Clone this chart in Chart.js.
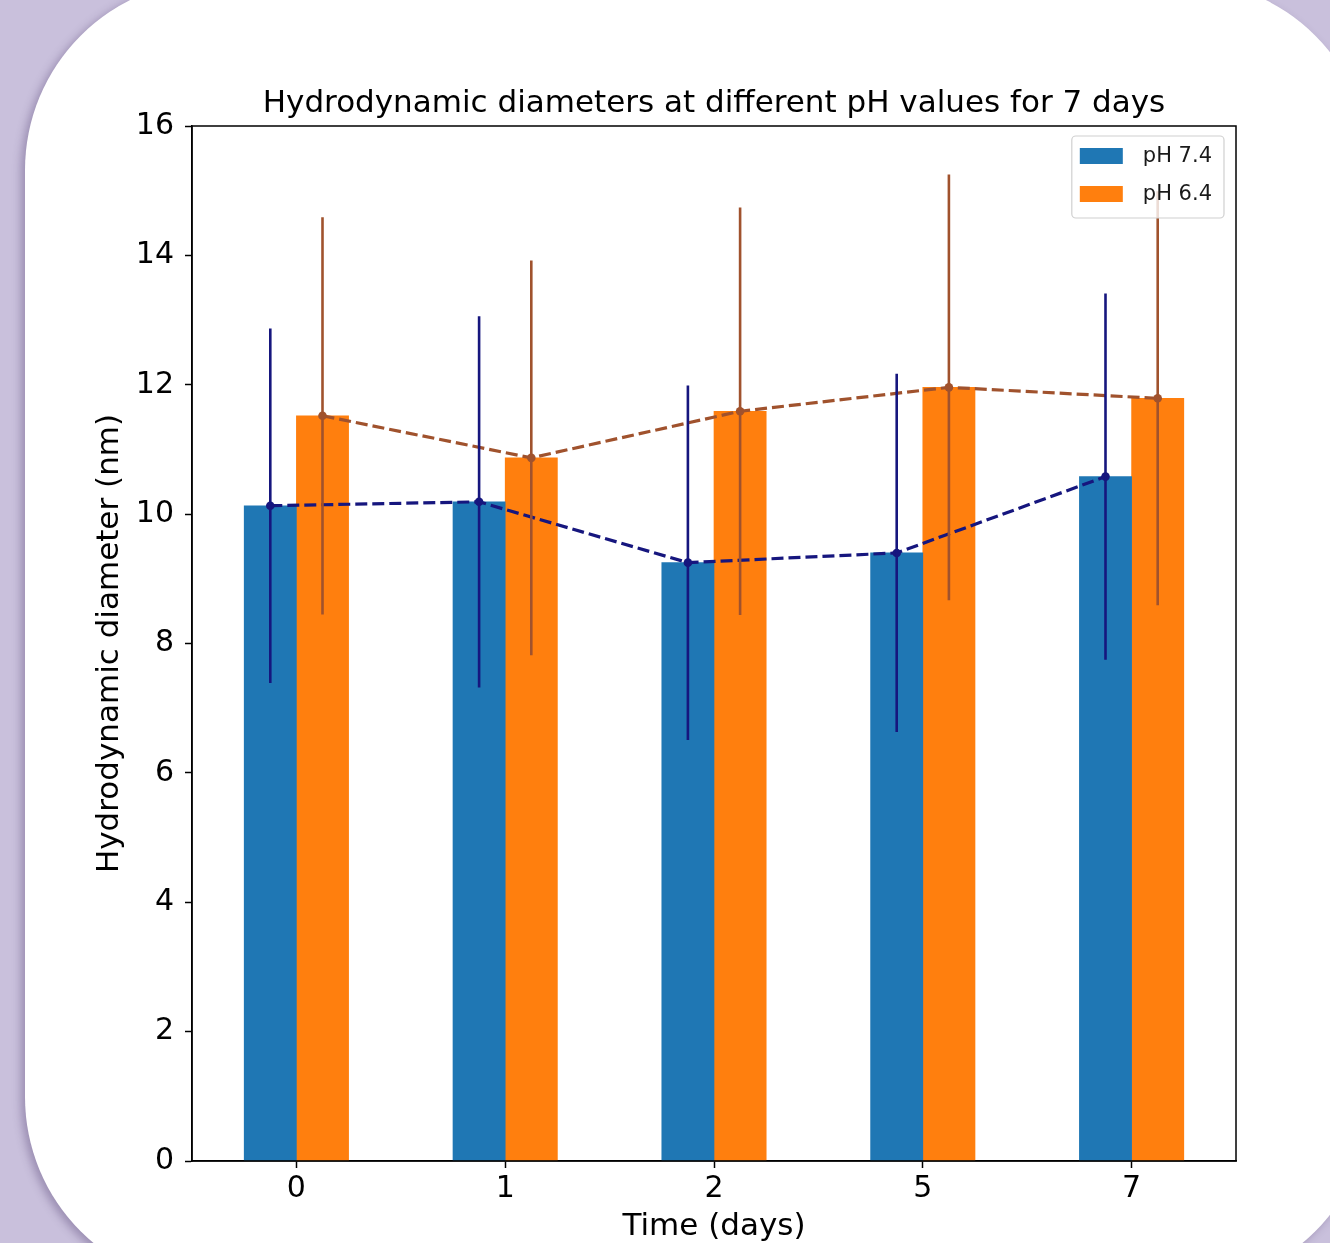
<!DOCTYPE html>
<html>
<head>
<meta charset="utf-8">
<script src="https://cdn.jsdelivr.net/npm/chart.js@4.4.1/dist/chart.umd.min.js"></script>
<style>
  html, body { margin: 0; padding: 0; width: 1330px; height: 1243px; overflow: hidden; background: #c9c0dc; }
  #card { position: absolute; left: 25px; top: -20px; width: 1346px; height: 1307px; border-radius: 190px; background: #ffffff; box-shadow: -4px 3px 8px rgba(70, 50, 100, 0.35); }
  #wrap { position: absolute; left: 0; top: 0; width: 1330px; height: 1243px; }
</style>
</head>
<body>
<div id="card"></div>
<div id="wrap"><canvas id="c"></canvas></div>
<script>
// ---- data ----
const categories = ['0', '1', '2', '5', '7'];
const ph74 = [10.13, 10.19, 9.25, 9.40, 10.58];
const ph64 = [11.52, 10.87, 11.59, 11.96, 11.79];
const err74 = [2.74, 2.87, 2.74, 2.77, 2.83];
const err64 = [3.07, 3.05, 3.15, 3.29, 3.20];
const yTicks = [0, 2, 4, 6, 8, 10, 12, 14, 16];
const seriesLabels = ['pH 7.4', 'pH 6.4'];

const FONT = "'DejaVu Sans', sans-serif";
const BLUE = '#1f77b4', ORANGE = '#ff7f0e', NAVY = '#16167e', SIENNA = '#a0522d';
const SHIFT = 0.125; // half a bar width, in category units

const errorPlugin = {
  id: 'extras',
  afterDatasetsDraw(chart) {
    const { ctx, chartArea: a, scales } = chart;
    const x = scales.x, y = scales.y;
    ctx.save();
    // error bars
    const groups = [[ph74, err74, NAVY, -SHIFT], [ph64, err64, SIENNA, SHIFT]];
    ctx.lineWidth = 2.6;
    groups.forEach(([vals, errs, col, sh]) => {
      ctx.strokeStyle = col;
      vals.forEach((v, i) => {
        const px = x.getPixelForValue(i + sh);
        ctx.beginPath();
        ctx.moveTo(px, y.getPixelForValue(v - errs[i]));
        ctx.lineTo(px, y.getPixelForValue(v + errs[i]));
        ctx.stroke();
      });
    });
    // frame
    ctx.strokeStyle = '#000';
    ctx.lineWidth = 1.5;
    ctx.strokeRect(a.left, a.top, a.right - a.left, a.bottom - a.top);
    // legend
    ctx.font = '21px ' + FONT;
    const tw = Math.max(...seriesLabels.map(t => ctx.measureText(t).width));
    const bw = 8 + 43 + 20 + tw + 12;
    const bh = 82;
    const bx = a.right - 12 - bw, by = a.top + 10;
    ctx.beginPath();
    ctx.roundRect(bx, by, bw, bh, 4);
    ctx.fillStyle = 'rgba(255,255,255,0.8)';
    ctx.fill();
    ctx.strokeStyle = '#d0d0d0';
    ctx.lineWidth = 1.2;
    ctx.stroke();
    const cols = [BLUE, ORANGE];
    seriesLabels.forEach((t, k) => {
      const cy = by + 20 + k * 38;
      ctx.fillStyle = cols[k];
      ctx.fillRect(bx + 8, cy - 8, 43, 16);
      ctx.fillStyle = '#1a1a1a';
      ctx.textAlign = 'left';
      ctx.textBaseline = 'middle';
      ctx.fillText(t, bx + 8 + 43 + 20, cy + 1);
    });
    ctx.restore();
  }
};

const barOpts = { grouped: false, categoryPercentage: 1.0, barPercentage: 1.0, order: 3, xAxisID: 'x', yAxisID: 'y' };
const lineOpts = { borderWidth: 3.2, borderDash: [12, 5], pointRadius: 4.3, pointBorderWidth: 0, tension: 0, fill: false, order: 1, xAxisID: 'x', yAxisID: 'y' };

new Chart(document.getElementById('c'), {
  data: {
    datasets: [
      Object.assign({ type: 'bar', label: seriesLabels[0], data: ph74.map((v, i) => ({ x: i - SHIFT, y: v })), backgroundColor: BLUE }, barOpts),
      Object.assign({ type: 'bar', label: seriesLabels[1], data: ph64.map((v, i) => ({ x: i + SHIFT, y: v })), backgroundColor: ORANGE }, barOpts),
      Object.assign({ type: 'line', label: 'mean 7.4', data: ph74.map((v, i) => ({ x: i - SHIFT, y: v })), borderColor: NAVY, pointBackgroundColor: NAVY }, lineOpts),
      Object.assign({ type: 'line', label: 'mean 6.4', data: ph64.map((v, i) => ({ x: i + SHIFT, y: v })), borderColor: SIENNA, pointBackgroundColor: SIENNA }, lineOpts)
    ]
  },
  options: {
    responsive: true,
    maintainAspectRatio: false,
    animation: false,
    events: [],
    layout: { padding: { left: 0, right: 94, top: 0, bottom: 0 } },
    plugins: {
      legend: { display: false },
      tooltip: { enabled: false },
      title: {
        display: true, fullSize: false,
        text: 'Hydrodynamic diameters at different pH values for 7 days',
        color: '#000', font: { family: FONT, size: 31, weight: 'normal' },
        padding: { top: 85.5, bottom: 3.3 }
      }
    },
    scales: {
      x: {
        type: 'linear', position: 'bottom', min: -0.5, max: 4.5, offset: false,
        afterBuildTicks(s) { s.ticks = categories.map((_, i) => ({ value: i })); },
        grid: { display: true, offset: false, drawOnChartArea: false, tickLength: 7, tickColor: '#000', tickWidth: 1.5 },
        border: { display: true, color: '#000', width: 1.5 },
        ticks: { color: '#000', font: { family: FONT, size: 30 }, padding: 3, maxRotation: 0, autoSkip: false,
                 callback: (v) => categories[v] },
        title: { display: true, text: 'Time (days)', color: '#000', font: { family: FONT, size: 31 }, padding: { top: 0, bottom: -3 } },
        afterFit(s) { s.height = 82; }
      },
      y: {
        type: 'linear', position: 'left', min: 0, max: 16,
        afterBuildTicks(s) { s.ticks = yTicks.map(v => ({ value: v })); },
        grid: { display: true, offset: false, drawOnChartArea: false, tickLength: 7, tickColor: '#000', tickWidth: 1.5 },
        border: { display: true, color: '#000', width: 1.5 },
        ticks: { color: '#000', font: { family: FONT, size: 30 }, padding: 11 },
        title: { display: true, text: 'Hydrodynamic diameter (nm)', color: '#000', font: { family: FONT, size: 31 }, padding: { top: 91, bottom: 0 } },
        afterFit(s) { s.width = 192; }
      }
    }
  },
  plugins: [errorPlugin]
});
</script>
</body>
</html>
